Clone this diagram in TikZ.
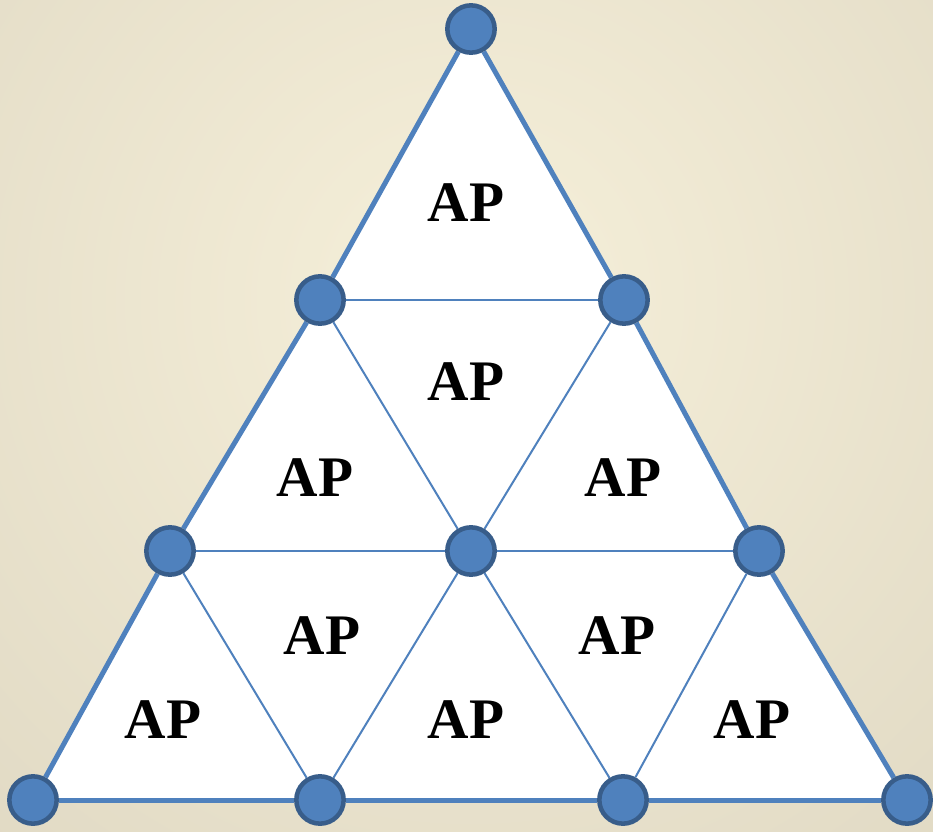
\documentclass[tikz,border=0pt]{standalone}
\usepackage{fontspec}
\setmainfont{Liberation Serif}[BoldFont={Liberation Serif Bold}]
\usepackage{xcolor}
\usetikzlibrary{backgrounds}
\definecolor{bgin}{HTML}{F6F0DA}
\definecolor{bgout}{HTML}{D2CAB5}
\definecolor{apfill}{HTML}{4F81BD}
\definecolor{apline}{HTML}{385D8A}
\definecolor{edge}{HTML}{4F81BD}
\begin{document}
\begin{tikzpicture}[x=0.75pt,y=-0.75pt,
   nd/.style={circle,draw=apline,fill=apfill,line width=3.4pt,minimum size=35.5pt,inner sep=0pt},
   outer/.style={edge,line width=3.75pt},
   inner/.style={edge,line width=1.5pt},
   ap/.style={font=\bfseries\fontsize{43}{43}\selectfont}]
  \useasboundingbox (0,0) rectangle (933,832);
  % access points
  \node[nd] (t) at (471,29) {};
  \node[nd] (l2) at (320,300) {};
  \node[nd] (r2) at (624,300) {};
  \node[nd] (l3) at (170,551) {};
  \node[nd] (m3) at (471,551) {};
  \node[nd] (r3) at (759,551) {};
  \node[nd] (b1) at (33,800) {};
  \node[nd] (b2) at (320,800) {};
  \node[nd] (b3) at (623,800) {};
  \node[nd] (b4) at (907,800) {};
  \begin{pgfonlayer}{background}
    \clip (0,0) rectangle (933,832);
    \shade[inner color=bgin,outer color=bgout] (470,300) circle (1250);
    \fill[white] (t.center)--(l2.center)--(l3.center)--(b1.center)--(b4.center)
      --(r3.center)--(r2.center)--cycle;
    % outer sides
    \draw[outer] (t)--(l2); \draw[outer] (l2)--(l3); \draw[outer] (l3)--(b1);
    \draw[outer] (b1)--(b2); \draw[outer] (b2)--(b3); \draw[outer] (b3)--(b4);
    \draw[outer] (b4)--(r3); \draw[outer] (r3)--(r2); \draw[outer] (r2)--(t);
    % inner links
    \draw[inner] (l2)--(r2); \draw[inner] (l3)--(m3); \draw[inner] (m3)--(r3);
    \draw[inner] (l2)--(m3); \draw[inner] (m3)--(b3);
    \draw[inner] (r2)--(m3); \draw[inner] (m3)--(b2);
    \draw[inner] (l3)--(b2); \draw[inner] (r3)--(b3);
  \end{pgfonlayer}
  \node[ap] (ap1) at (466,203) {AP};
  \node[ap] (ap2) at (466,382) {AP};
  \node[ap] (ap3) at (315,478) {AP};
  \node[ap] (ap4) at (623,478) {AP};
  \node[ap] (ap5) at (322,636) {AP};
  \node[ap] (ap6) at (617,636) {AP};
  \node[ap] (ap7) at (163,720) {AP};
  \node[ap] (ap8) at (466,720) {AP};
  \node[ap] (ap9) at (752,720) {AP};
\end{tikzpicture}
\end{document}
